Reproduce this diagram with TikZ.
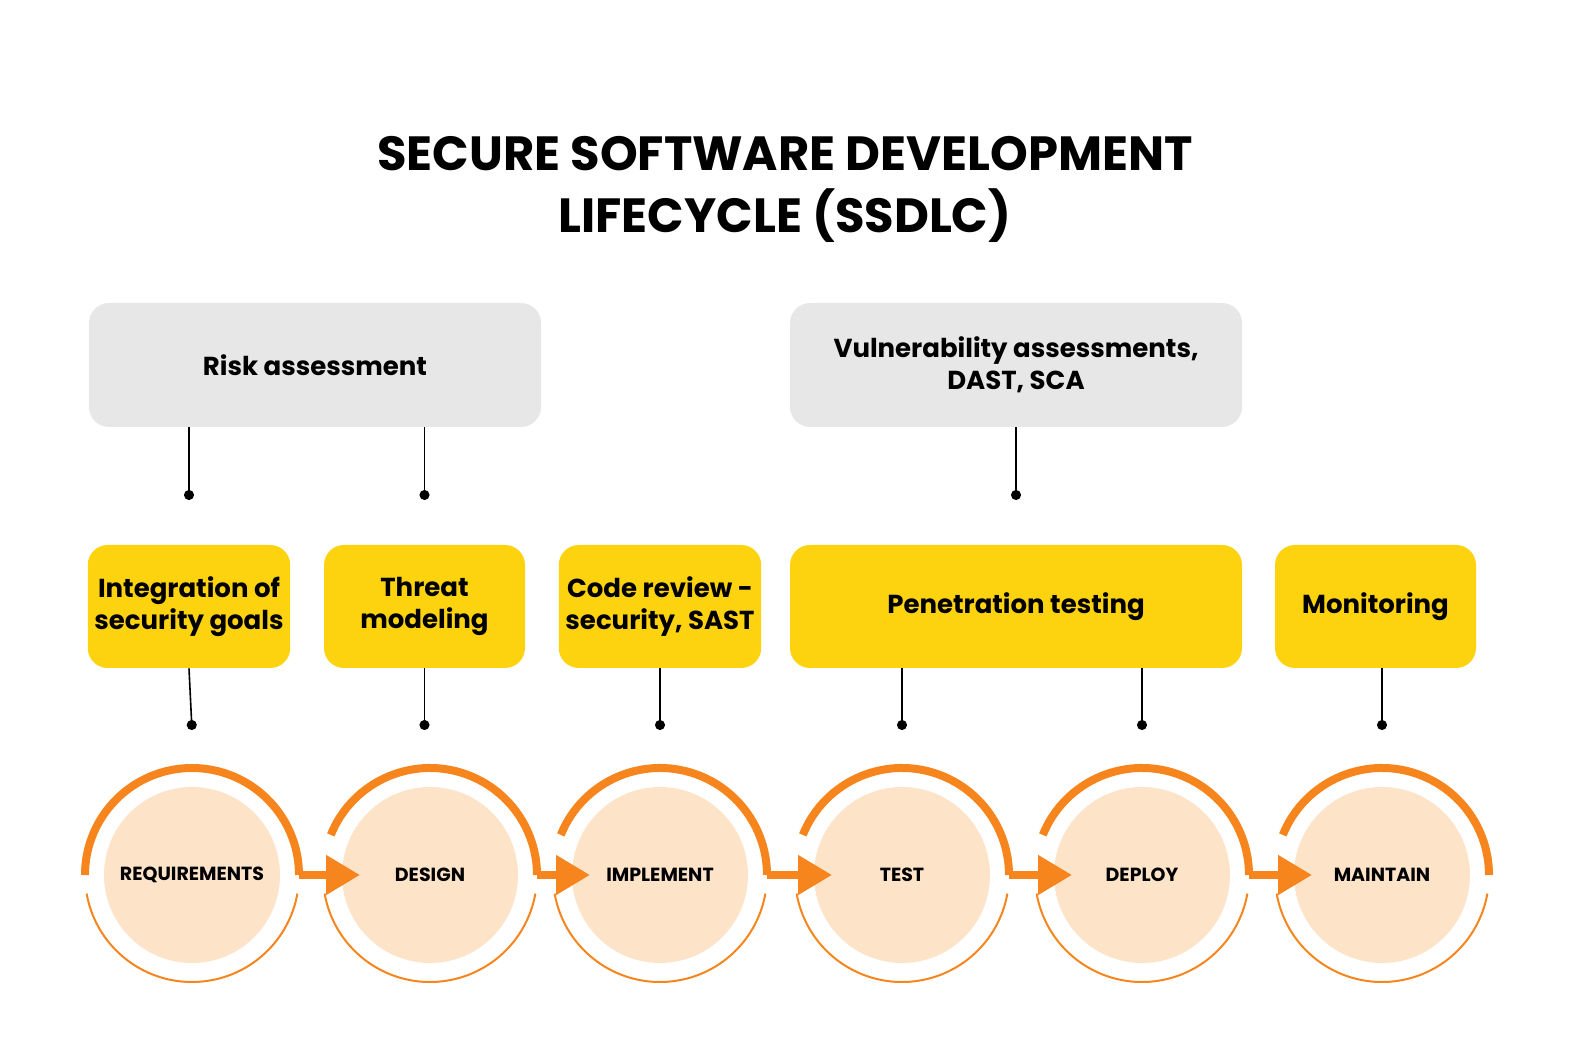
\documentclass[tikz,border=0pt]{standalone}
\usepackage{fontspec}
\setmainfont{Poppins}
\usetikzlibrary{arrows.meta, positioning}
\definecolor{ringOrange}{HTML}{F7851E}
\definecolor{diskPeach}{HTML}{FDE3C8}
\definecolor{boxYellow}{HTML}{FDD20F}
\definecolor{boxGrey}{HTML}{E8E7E8}
\tikzset{
  phase/.style={circle, fill=diskPeach, minimum size=88pt, inner sep=0pt, font=\fontsize{9.5}{11}\selectfont\bfseries},
  tool/.style={rounded corners=10pt, fill=boxYellow, minimum height=61.5pt, align=center, font=\fontsize{13}{16}\selectfont\bfseries},
  method/.style={rounded corners=10pt, fill=boxGrey, minimum height=62pt, align=center, font=\fontsize{13}{16}\selectfont\bfseries},
  ring/.style={ringOrange, line width=4pt},
  thinring/.style={ringOrange, line width=1pt},
  flowstep/.style={ringOrange, line width=4pt, -{Triangle[length=17pt,width=19pt]}},
  link/.style={line width=0.8pt, {}-{Circle[length=5pt]}}
}
\begin{document}
\begin{tikzpicture}[x=0.5pt, y=0.5pt]
\useasboundingbox (0,0) rectangle (1570,1056);
% title
\node[font=\fontsize{24}{31}\selectfont\bfseries, align=center] (title) at (785,867) {SECURE SOFTWARE DEVELOPMENT\\LIFECYCLE (SSDLC)};
% phases
\node[phase] (req) at (192,181) {REQUIREMENTS};
\node[phase] (des) at (430,181) {DESIGN};
\node[phase] (imp) at (660,181) {IMPLEMENT};
\node[phase] (tst) at (902,181) {TEST};
\node[phase] (dep) at (1142,181) {DEPLOY};
\node[phase] (mnt) at (1382,181) {MAINTAIN};
% rings
\draw[ring] ([shift={(180:107)}]req.center) arc[start angle=180, end angle=0, radius=53.5pt];
\foreach \p in {des,imp,tst,dep,mnt}
  \draw[ring] ([shift={(158:107)}]\p.center) arc[start angle=158, end angle=0, radius=53.5pt];
\foreach \p in {req,des,imp,tst,dep,mnt}
  \draw[thinring] ([shift={(190:107)}]\p.center) arc[start angle=190, end angle=350, radius=53.5pt];
% arrows
\foreach \a/\b in {req/des,des/imp,imp/tst,tst/dep,dep/mnt}
  \draw[flowstep] ([xshift=53.5pt]\a.center) -- ([xshift=-35pt]\b.center);
% tools
\node[tool, minimum width=100pt] (goals) at (189,449.5) {Integration of\\security goals};
\node[tool, minimum width=100.5pt] (threat) at (424.5,449.5) {Threat\\modeling};
\node[tool, minimum width=100pt] (review) at (660,449.5) {Code review -\\security, SAST};
\node[tool, minimum width=226pt] (pentest) at (1016,449.5) {Penetration testing};
\node[tool, minimum width=100.5pt] (monitor) at (1375.5,449.5) {Monitoring};
% methods
\node[method, minimum width=226pt] (risk) at (315,691) {Risk assessment};
\node[method, minimum width=226pt] (vuln) at (1016,691) {Vulnerability assessments,\\DAST, SCA};
% links
\draw[link] (goals.south) -- (req.north |- 0,326);
\draw[link] (threat.south) -- (threat.south |- 0,326);
\draw[link] (review.south) -- (review.south |- 0,326);
\draw[link] (pentest.south -| tst.north) -- (tst.north |- 0,326);
\draw[link] (pentest.south -| dep.north) -- (dep.north |- 0,326);
\draw[link] (monitor.south -| mnt.north) -- (mnt.north |- 0,326);
\draw[link] (risk.south -| goals.south) -- (goals.south |- 0,556);
\draw[link] (risk.south -| threat.south) -- (threat.south |- 0,556);
\draw[link] (vuln.south) -- (vuln.south |- 0,556);
\end{tikzpicture}
\end{document}
